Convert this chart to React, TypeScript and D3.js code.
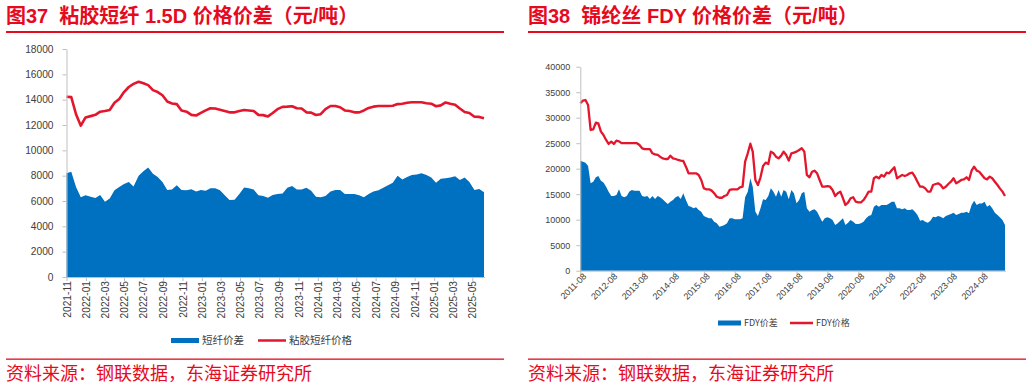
import React, { useEffect, useRef } from "react";
import * as d3 from "d3";

// 图37 粘胶短纤 1.5D (half-month samples from 2021-11)
const viscosePrice = [
  14230, 14200, 12850, 11950, 12600, 12700, 12800, 13050, 13100, 13180,
  13750, 14050, 14600, 15000, 15250, 15420, 15290, 15150, 14750, 14600,
  14350, 13850, 13700, 13650, 13150, 13050, 12800, 12750, 12950, 13150,
  13320, 13300, 13200, 13100, 13000, 13000, 13100, 13180, 13150, 13100,
  12800, 12780, 12680, 12950, 13250, 13430, 13450, 13480, 13320, 13300,
  13000, 12980, 12790, 12850, 13250, 13500, 13500, 13400, 13150, 13100,
  13000, 13000, 13150, 13350, 13450, 13500, 13500, 13500, 13520, 13650,
  13680, 13750, 13800, 13800, 13800, 13720, 13680, 13480, 13550, 13780,
  13680, 13600, 13300, 13020, 12950, 12650, 12640, 12530,
];
const viscoseSpread = [
  8190, 8300, 7100, 6300, 6450, 6340, 6230, 6470, 5950, 6200,
  6850, 7100, 7350, 7500, 7150, 8000, 8350, 8650, 8150, 7900,
  7500, 6870, 6900, 7250, 6870, 6850, 6920, 6750, 6870, 6800,
  7000, 7000, 6850, 6450, 6080, 6100, 6550, 7060, 7000, 6900,
  6450, 6400, 6250, 6470, 6550, 6600, 7050, 7180, 6900, 6900,
  7050, 6800, 6340, 6300, 6400, 6750, 6870, 6870, 6550, 6550,
  6550, 6450, 6300, 6550, 6750, 6850, 7050, 7250, 7450, 8000,
  7700, 7900, 8050, 8100, 8190, 8050, 7850, 7450, 7750, 7800,
  7850, 7950, 7650, 7850, 7500, 6870, 6950, 6700,
];
const viscoseTicks = [
  "2021-11", "2022-01", "2022-03", "2022-05", "2022-07", "2022-09", "2022-11",
  "2023-01", "2023-03", "2023-05", "2023-07", "2023-09", "2023-11",
  "2024-01", "2024-03", "2024-05", "2024-07", "2024-09", "2024-11",
  "2025-01", "2025-03", "2025-05",
];
const viscoseYTicks = [0, 2000, 4000, 6000, 8000, 10000, 12000, 14000, 16000, 18000];

// 图38 锦纶丝 FDY (monthly samples from 2011-08)
const fdyPrice = [
  32830, 33340, 33470, 32490, 27590, 27720, 29020, 28890, 27260, 26600,
  25630, 24850, 25300, 24850, 25500, 25370, 25000, 25000, 25000, 25000,
  25000, 25000, 25000, 24650, 24000, 23830, 23830, 23830, 23020, 22810,
  22700, 22360, 22030, 21900, 21900, 22550, 22030, 21900, 21710, 21600,
  21510, 20400, 19100, 19100, 19100, 19100, 18780, 17790, 16160, 15960,
  15960, 15700, 15180, 14510, 14300, 14300, 14640, 14840, 15830, 15960,
  15960, 15960, 16350, 16490, 21380, 23020, 24900, 23350, 17790, 16800,
  18310, 20530, 21190, 20920, 23350, 23020, 22360, 22030, 22560, 23350,
  22690, 21580, 23020, 23150, 23350, 23680, 24000, 23350, 18770, 18310,
  19410, 19610, 19100, 17790, 16470, 16470, 16600, 16470, 15830, 14640,
  15180, 15500, 14200, 12880, 13340, 14200, 14400, 13530, 13400, 13400,
  13860, 14640, 15500, 15500, 18120, 18440, 18120, 18770, 18440, 19230,
  19100, 19760, 20280, 18120, 18440, 18770, 18570, 18770, 19100, 19230,
  18440, 17450, 16470, 16470, 16140, 15500, 15500, 16800, 17000, 17130,
  16800, 16140, 16470, 17000, 17450, 18120, 17130, 17450, 17790, 17900,
  18310, 17790, 19610, 20400, 19610, 19410, 18770, 18120, 17900, 18440,
  18120, 17450, 16800, 16140, 15500, 14640,
];
const fdySpread = [
  21570, 21370, 21180, 20520, 17140, 17450, 18310, 18570, 17650, 17270,
  16470, 15500, 14640, 14640, 14840, 15960, 14640, 14380, 14640, 15500,
  15830, 15700, 15700, 15700, 14640, 14510, 14640, 14050, 14640, 14050,
  14640, 14380, 13990, 13530, 13070, 13530, 13860, 14380, 14640, 14050,
  15180, 13860, 12690, 12550, 12230, 12420, 11900, 11570, 10720, 10460,
  10260, 10260, 9610, 9280, 8630, 8760, 8950, 9280, 10260, 10260,
  10070, 10070, 10070, 10260, 14380, 15500, 18120, 16470, 11570, 10720,
  12230, 13990, 13860, 14640, 16160, 15500, 14510, 15830, 14510, 15830,
  15500, 13990, 15830, 15180, 13230, 13860, 15180, 15500, 12230, 11570,
  11900, 12030, 11570, 10590, 9610, 10260, 10460, 10260, 9940, 8950,
  9280, 9810, 10260, 8950, 9410, 9940, 9610, 9150, 9150, 9280,
  9610, 10260, 10720, 10920, 12550, 12880, 12550, 12880, 12880, 12880,
  13200, 13530, 13530, 12230, 12230, 12030, 12230, 11900, 11900, 12030,
  11570, 10920, 9810, 9940, 9610, 9410, 9810, 10590, 10460, 10720,
  10590, 10260, 10720, 10920, 11120, 11380, 10920, 11120, 11380, 11380,
  11570, 11250, 12880, 13730, 12880, 13200, 13200, 13530, 12550, 12880,
  12230, 11380, 10920, 10460, 9940, 8950,
];
const fdyTicks = [
  "2011-08", "2012-08", "2013-08", "2014-08", "2015-08", "2016-08", "2017-08",
  "2018-08", "2019-08", "2020-08", "2021-08", "2022-08", "2023-08", "2024-08",
];
const fdyYTicks = [0, 5000, 10000, 15000, 20000, 25000, 30000, 35000, 40000];

const RED = "#e3162d";
const TITLE_RED = "#e60a1e";
const BLUE = "#0070c0";
const FONT = "'Liberation Sans', Arial, 'Noto Sans CJK SC', sans-serif";
const CJK = "'Noto Sans CJK SC', 'Liberation Sans', sans-serif";

const parseMonth = d3.timeParse("%Y-%m");

function drawPanel(svg, cfg) {
  const g = svg.append("g");

  // title + rules
  g.append("text")
    .attr("x", cfg.left)
    .attr("y", 23)
    .attr("fill", TITLE_RED)
    .style("font-family", FONT)
    .style("font-size", "20px")
    .style("font-weight", "bold")
    .style("white-space", "pre")
    .text(cfg.title);
  g.append("rect")
    .attr("x", cfg.left)
    .attr("y", 31)
    .attr("width", cfg.right - cfg.left)
    .attr("height", 2)
    .attr("fill", TITLE_RED);
  g.append("rect")
    .attr("x", cfg.left)
    .attr("y", 358.5)
    .attr("width", cfg.right - cfg.left)
    .attr("height", 1.3)
    .attr("fill", TITLE_RED);
  g.append("text")
    .attr("x", cfg.left)
    .attr("y", 380)
    .attr("fill", TITLE_RED)
    .style("font-family", CJK)
    .style("font-size", "18px")
    .text("资料来源：钢联数据，东海证券研究所");

  const x = d3.scaleTime().domain(cfg.xDomain).range([cfg.x0, cfg.x1]);
  const y = d3.scaleLinear().domain(cfg.yDomain).range([cfg.yBot, cfg.yTop]);

  const pts = cfg.dates.map((d, i) => ({ d, spread: cfg.spread[i], price: cfg.price[i] }));

  g.append("path")
    .datum(pts)
    .attr("fill", BLUE)
    .attr("d", d3.area().x((p) => x(p.d)).y0(y(0)).y1((p) => y(p.spread)));

  g.append("path")
    .datum(pts)
    .attr("fill", "none")
    .attr("stroke", RED)
    .attr("stroke-width", cfg.lineWidth)
    .attr("stroke-linejoin", "round")
    .attr("d", d3.line().x((p) => x(p.d)).y((p) => y(p.price)));

  // y axis
  const yAxis = g.append("g")
    .attr("transform", `translate(${cfg.x0},0)`)
    .call(d3.axisLeft(y).tickValues(cfg.yTicks).tickSize(4).tickSizeOuter(0).tickPadding(cfg.yPad).tickFormat(d3.format("d")));
  yAxis.select(".domain").attr("stroke", "#bfbfbf");
  yAxis.selectAll(".tick line").attr("stroke", "#bfbfbf");
  yAxis.selectAll("text")
    .attr("fill", "#404040")
    .style("font-family", FONT)
    .style("font-size", cfg.fontSize + "px");

  // x axis
  const xAxis = g.append("g")
    .attr("transform", `translate(0,${cfg.yBot})`)
    .call(d3.axisBottom(x).tickValues(cfg.ticks.map(parseMonth)).tickSize(4).tickSizeOuter(0).tickFormat(d3.timeFormat("%Y-%m")));
  xAxis.select(".domain").attr("stroke", "#bfbfbf").attr("d", `M${cfg.x0},0.5H${cfg.x1 + 1}`);
  xAxis.selectAll(".tick line").attr("stroke", "#bfbfbf");
  const xt = xAxis.selectAll("text")
    .attr("fill", "#404040")
    .style("font-family", FONT)
    .style("font-size", cfg.fontSize + "px")
    .attr("text-anchor", "end")
    .attr("x", 0)
    .attr("y", 0)
    .attr("dy", "0.35em");
  xt.attr("transform", cfg.rotate === -90 ? "translate(0,4) rotate(-90)" : "translate(4,4) rotate(-45)");

  // legend
  const lg = g.append("g")
    .style("font-family", CJK)
    .style("font-size", cfg.legendSize + "px")
    .attr("fill", "#404040");
  const L = cfg.legend;
  lg.append("rect").attr("x", L.x).attr("y", L.y - 2.5).attr("width", L.sw).attr("height", 5).attr("fill", BLUE);
  lg.append("text").attr("x", L.x + L.sw + 3).attr("y", L.y).attr("dy", "0.36em").text(L.labels[0]);
  lg.append("line")
    .attr("x1", L.x2).attr("x2", L.x2 + L.sw)
    .attr("y1", L.y).attr("y2", L.y)
    .attr("stroke", RED).attr("stroke-width", 2.5);
  lg.append("text").attr("x", L.x2 + L.sw + 3).attr("y", L.y).attr("dy", "0.36em").text(L.labels[1]);
}

export default function App() {
  const svgRef = useRef(null);

  useEffect(() => {
    const svg = d3.select(svgRef.current);
    svg.selectAll("*").remove();

    const vStart = new Date(2021, 10, 1);
    const vDates = viscosePrice.map((_, i) => d3.timeDay.offset(vStart, Math.round(i * 15.1)));
    drawPanel(svg, {
      title: "图37  粘胶短纤 1.5D 价格价差（元/吨）",
      left: 6,
      right: 504,
      x0: 66.5,
      x1: 484,
      yTop: 49,
      yBot: 277,
      yDomain: [0, 18000],
      yTicks: viscoseYTicks,
      yPad: 9,
      xDomain: [vDates[0], vDates[vDates.length - 1]],
      dates: vDates,
      price: viscosePrice,
      spread: viscoseSpread,
      ticks: viscoseTicks,
      rotate: -90,
      fontSize: 10.2,
      lineWidth: 2.6,
      legendSize: 10.5,
      legend: { x: 171, x2: 258, y: 340.5, sw: 28, labels: ["短纤价差", "粘胶短纤价格"] },
    });

    const fStart = new Date(2011, 7, 1);
    const fDates = fdyPrice.map((_, i) => d3.timeMonth.offset(fStart, i));
    drawPanel(svg, {
      title: "图38  锦纶丝 FDY 价格价差（元/吨）",
      left: 528,
      right: 1026,
      x0: 580.3,
      x1: 1005,
      yTop: 66.7,
      yBot: 270.7,
      yDomain: [0, 40000],
      yTicks: fdyYTicks,
      yPad: 6,
      xDomain: [fDates[0], fDates[fDates.length - 1]],
      dates: fDates,
      price: fdyPrice,
      spread: fdySpread,
      ticks: fdyTicks,
      rotate: -45,
      fontSize: 9,
      lineWidth: 2.3,
      legendSize: 9,
      legend: { x: 718, x2: 790, y: 323, sw: 23, labels: ["FDY价差", "FDY价格"] },
    });
  }, []);

  return (
    <svg
      ref={svgRef}
      width={1032}
      height={387}
      style={{ position: "absolute", left: 0, top: 0, background: "#fff" }}
    />
  );
}
